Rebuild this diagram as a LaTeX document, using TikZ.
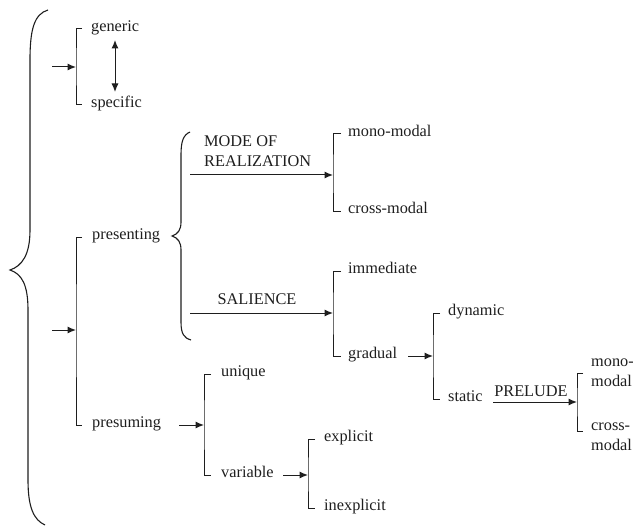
\documentclass[tikz,border=0pt]{standalone}
\usepackage{fontspec}
\setmainfont{Liberation Serif}
\usetikzlibrary{arrows.meta}
\definecolor{ink}{RGB}{30,30,30}
\begin{document}
\begin{tikzpicture}[x=1pt,y=-1pt,
  every node/.style={text=ink},
  lbl/.style={anchor=mid west, inner sep=0pt, font=\fontsize{16.3}{20}\selectfont},
  captxt/.style={inner sep=0pt, font=\fontsize{16.3}{20}\selectfont},
  arr/.style={draw=ink, line width=1pt, -{Latex[length=8.5pt,width=7pt]}},
  dbl/.style={draw=ink, line width=1pt, {Latex[length=8.5pt,width=7pt]}-{Latex[length=8.5pt,width=7pt]}},
  brk/.style={draw=ink, line width=1pt},
  bracestyle/.style={draw=ink, line width=1.1pt}]
\useasboundingbox (0,0) rectangle (633,527);

% big brace
\draw[bracestyle] (48,10) .. controls (34,14) and (30,30) .. (30,60)
  -- (30,230) .. controls (30,255) and (22,266) .. (10,270)
  .. controls (22,274) and (28,285) .. (28,310)
  -- (28,480) .. controls (28,508) and (34,520) .. (45,525);

% generic / specific
\node[lbl] (generic) at (91,29) {generic};
\node[lbl] (specific) at (91,105) {specific};
\coordinate (ga) at (52,67); \coordinate (gb) at (76,67);
\draw[brk] ([xshift=-9pt]generic.mid west) -| (gb) |- ([xshift=-9pt]specific.mid west);
\draw[arr] (ga) -- (gb);
\coordinate (d1) at (115,40); \coordinate (d2) at (115,92);
\draw[dbl] (d1) -- (d2);

% presenting / presuming
\node[lbl] (presenting) at (92,237) {presenting};
\node[lbl] (presuming) at (92,425) {presuming};
\coordinate (pa) at (52,330); \coordinate (pb) at (76,330);
\draw[brk] ([xshift=-10pt]presenting.mid west) -| (pb) |- ([xshift=-10pt]presuming.mid west);
\draw[arr] (pa) -- (pb);

% presenting brace
\draw[bracestyle] (190,132) .. controls (183,135) and (181,142) .. (181,155)
  -- (181,222) .. controls (181,230) and (178,234) .. (172,236)
  .. controls (178,238) and (181,242) .. (181,250)
  -- (181,322) .. controls (181,334) and (184,338) .. (191,340);

% mode of realization
\coordinate (ma) at (190,175); \coordinate (mb) at (333,175);
\draw[arr] (ma) -- (mb);
\node[captxt, anchor=north west, align=left] (mode) at (204,136) {MODE OF\\REALIZATION};
\node[lbl] (mono) at (348,134) {mono-modal};
\node[lbl] (cross) at (348,211) {cross-modal};
\draw[brk] ([xshift=-7pt]mono.mid west) -| (mb) |- ([xshift=-7pt]cross.mid west);

% salience
\coordinate (sa) at (190,313); \coordinate (sb) at (333,313);
\draw[arr] (sa) -- (sb);
\node[captxt, anchor=base] (sal) at (257,304) {SALIENCE};
\node[lbl] (immediate) at (348,271) {immediate};
\node[lbl] (gradual) at (348,356) {gradual};
\draw[brk] ([xshift=-7pt]immediate.mid west) -| (sb) |- ([xshift=-7pt]gradual.mid west);

% gradual -> dynamic / static
\coordinate (ra) at (408,356); \coordinate (rb) at (433,356);
\draw[arr] (ra) -- (rb);
\node[lbl] (dynamic) at (448,313) {dynamic};
\node[lbl] (static) at (448,399) {static};
\draw[brk] ([xshift=-8pt]dynamic.mid west) -| (rb) |- ([xshift=-8pt]static.mid west);

% prelude
\coordinate (la) at (493,402); \coordinate (lb) at (577,402);
\draw[arr] (la) -- (lb);
\node[captxt, anchor=base] (prelude) at (531,396) {PRELUDE};
\node[captxt, anchor=west, align=left] (mono2) at (591,373) {mono-\\modal};
\node[captxt, anchor=west, align=left] (cross2) at (591,437) {cross-\\modal};
\draw[brk] ([xshift=-8pt]mono2.west) -| (lb) |- ([xshift=-8pt,yshift=6pt]cross2.west);

% presuming -> unique / variable
\coordinate (ua) at (179,425); \coordinate (ub) at (204,425);
\draw[arr] (ua) -- (ub);
\node[lbl] (unique) at (221,374) {unique};
\node[lbl] (variable) at (221,475) {variable};
\draw[brk] ([xshift=-10pt]unique.mid west) -| (ub) |- ([xshift=-10pt]variable.mid west);

% variable -> explicit / inexplicit
\coordinate (va) at (283,475); \coordinate (vb) at (308,475);
\draw[arr] (va) -- (vb);
\node[lbl] (explicit) at (324,439) {explicit};
\node[lbl] (inexplicit) at (324,508) {inexplicit};
\draw[brk] ([xshift=-9pt]explicit.mid west) -| (vb) |- ([xshift=-9pt]inexplicit.mid west);
\end{tikzpicture}
\end{document}
